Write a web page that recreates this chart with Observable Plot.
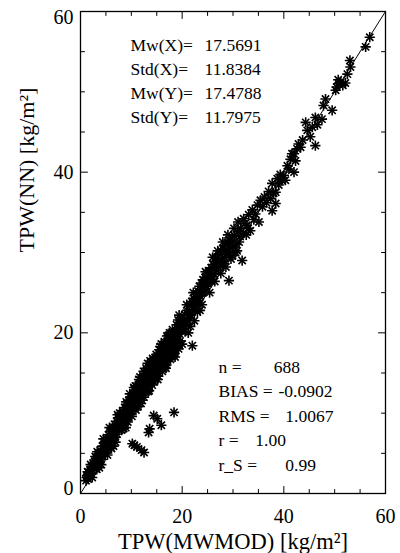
<!DOCTYPE html>
<html><head><meta charset="utf-8">
<script src="https://cdn.jsdelivr.net/npm/d3@7"></script>
<script src="https://cdn.jsdelivr.net/npm/@observablehq/plot@0.6"></script>
<style>body{margin:0;background:#fff} svg{display:block} svg text{font-family:"Liberation Serif", "Times New Roman", serif !important;}</style>
</head><body><div id="chart"></div>
<script>
// TPW from MWMOD (x) versus TPW from the neural network (y), kg/m²
const tpwMWMOD = [
  1.1,1.3,1.5,1.6,1.8,1.9,2.1,2.2,2.4,2.5,
  2.7,2.8,3.0,3.1,3.2,3.4,3.5,3.6,3.8,3.9,
  4.0,4.2,4.3,4.4,4.6,4.7,4.8,5.0,5.1,5.2,
  5.4,5.5,5.6,5.8,5.9,6.0,6.2,6.3,6.4,6.6,
  6.7,6.8,7.0,7.1,7.2,7.4,7.5,7.6,7.8,7.9,
  8.0,8.2,8.3,8.4,8.6,8.7,8.8,9.0,9.1,9.2,
  9.4,9.5,9.6,9.8,9.9,10.0,10.2,10.3,10.4,10.6,
  10.7,10.8,11.0,11.1,11.2,11.4,11.5,11.6,11.8,11.9,
  12.0,12.2,12.3,12.4,12.6,12.7,12.8,13.0,13.1,13.2,
  13.4,13.5,13.6,13.8,13.9,14.0,14.2,14.3,14.4,14.6,
  14.7,14.8,15.0,15.1,15.2,15.4,15.5,15.6,15.8,15.9,
  16.0,16.2,16.3,16.4,16.6,16.7,16.8,17.0,17.1,17.2,
  17.4,17.5,17.6,17.8,17.9,18.0,18.2,18.3,18.4,18.6,
  18.7,18.8,19.0,19.1,19.2,19.4,19.5,19.6,19.8,19.9,
  2.0,3.3,4.5,5.7,6.5,7.3,8.1,9.3,9.7,10.5,
  11.3,11.7,12.5,12.9,13.3,13.7,14.5,14.9,15.3,15.7,
  16.1,16.5,16.9,17.3,17.7,18.1,18.5,18.9,19.3,19.7,
  4.1,6.1,8.5,10.9,12.1,14.1,16.7,18.3,15.5,11.5,
  10.2,11.1,12.5,13.6,13.4,14.4,15.1,15.9,18.4,22.0,
  20.2,20.5,20.8,21.0,21.3,21.5,21.7,21.9,22.1,10.6,
  22.3,22.5,22.7,22.9,23.1,23.2,23.4,23.6,23.8,24.0,
  24.1,24.3,24.5,24.7,24.9,25.1,25.3,25.5,25.7,25.9,
  26.1,26.3,26.5,26.7,26.9,27.1,27.3,27.5,27.7,27.9,
  28.1,28.3,28.5,28.7,28.9,29.1,29.3,29.5,29.2,29.8,
  30.0,30.3,30.6,30.9,31.2,31.5,31.8,30.8,32.1,32.4,
  24.3,25.8,26.6,28.2,23.0,21.6,27.9,29.9,12.0,20.6,
  32.1,32.7,33.1,33.4,33.8,34.1,34.4,34.8,35.1,35.4,
  35.8,36.2,36.6,37.0,37.4,37.7,38.0,38.4,38.4,37.7,
  38.7,39.0,39.3,39.6,40.0,40.3,40.7,41.0,41.3,41.6,
  42.0,42.0,42.3,42.6,42.9,43.3,43.7,44.3,44.6,45.2,
  45.6,46.2,46.2,46.6,47.5,47.8,48.2,49.5,50.2,50.4,
  50.8,51.2,51.6,52.1,50.7,52.5,53.1,53.0,56.1,56.9,
  1.4,2.3,2.9,3.7,4.9,5.3,6.1,6.9,7.7,8.9,
  9.0,10.1,10.8,11.9,12.4,13.5,14.2,15.2,15.9,16.8,
  17.5,18.6,19.2,20.0,20.4,21.2,20.9,22.4,22.2,23.5,
  23.9,24.6,25.4,26.0,26.4,27.0,27.6,28.0,28.6,29.0,
  29.6,30.2,30.5,31.0,31.4,32.6,33.0,19.4,17.0,13.2,
  1.2,1.7,2.6,3.3,4.1,4.6,5.3,5.9,6.6,7.1,
  7.7,8.3,8.9,9.5,10.1,10.7,11.3,11.9,12.5,13.1,
  13.7,14.3,14.9,15.5,16.1,16.7,17.3,17.9,18.5,19.1,
  19.7,20.3,20.9,21.5,22.1,22.8,23.4,24.0,24.6,25.2
];
const tpwNN = [
  1.6,2.2,1.8,2.6,2.1,3.0,2.5,3.3,2.9,3.8,
  3.1,4.0,3.5,4.4,3.0,4.1,4.9,3.8,4.6,5.4,
  4.2,5.1,5.9,4.6,5.5,6.3,5.0,6.0,6.8,5.4,
  6.4,7.3,5.9,6.9,7.7,6.2,7.2,8.1,6.7,7.6,
  8.6,7.0,8.0,9.0,7.4,8.5,9.4,7.9,8.8,9.9,
  8.3,9.2,10.3,8.6,9.7,10.7,9.1,10.1,11.1,9.4,
  10.5,11.6,9.9,10.9,12.0,10.2,11.3,12.4,10.6,11.8,
  12.8,11.0,12.2,13.2,11.4,12.6,13.6,11.9,13.0,14.0,
  12.3,13.4,14.5,12.6,13.8,14.9,13.0,14.2,15.2,13.3,
  14.6,15.6,13.7,14.9,16.0,14.0,15.3,16.3,14.4,15.7,
  16.7,14.7,16.0,17.1,15.1,16.4,17.4,15.4,16.8,17.8,
  15.8,17.1,18.1,16.1,17.5,18.5,16.5,17.8,18.8,16.8,
  18.2,19.2,17.2,18.5,19.5,17.5,18.9,19.9,17.9,19.2,
  20.2,18.2,19.6,20.6,18.6,19.9,20.9,19.0,20.3,21.2,
  3.6,5.2,6.8,8.2,5.9,9.8,7.9,8.9,12.4,13.2,
  10.8,14.5,12.0,15.6,12.7,16.5,13.9,17.3,14.6,18.3,
  15.2,18.9,16.0,19.7,16.7,20.4,17.4,21.0,18.0,21.6,
  3.6,5.6,8.1,10.4,11.6,13.5,15.9,17.2,17.9,14.2,
  6.2,5.8,5.1,8.05,7.6,9.7,9.3,8.5,10.1,18.4,
  21.4,22.3,21.0,22.8,21.9,23.4,22.2,23.9,22.9,6.0,
  24.3,23.2,24.8,23.7,25.2,24.0,25.8,24.6,26.2,25.0,
  26.6,25.4,26.9,25.8,27.4,26.1,27.7,26.5,28.1,27.0,
  28.5,27.3,28.9,27.8,29.3,28.2,29.8,28.6,30.2,29.0,
  30.4,29.4,30.9,29.8,31.2,30.1,31.5,30.5,26.5,31.8,
  30.8,32.1,31.0,32.6,31.3,33.0,29.0,30.2,32.4,33.6,
  26.1,26.4,29.4,28.6,22.6,20.8,28.6,29.6,5.4,20.2,
  34.2,33.4,34.7,32.7,35.3,34.1,34.8,35.9,33.8,36.5,
  35.7,36.9,36.2,37.6,36.7,38.6,37.4,37.5,36.1,35.2,
  39.2,38.4,39.7,39.0,39.6,39.0,40.8,40.4,41.6,42.3,
  42.3,40.0,41.4,42.9,43.5,43.1,44.0,46.2,45.2,44.4,
  45.6,46.8,43.3,45.9,46.6,48.3,49.1,47.7,50.2,50.6,
  51.0,51.2,50.8,51.1,51.5,52.2,53.1,53.9,55.6,56.8,
  2.7,2.0,4.6,3.2,6.5,4.8,8.0,6.4,10.0,8.2,
  11.4,9.6,13.4,11.2,15.2,12.8,16.8,14.2,18.6,15.6,
  20.0,17.0,21.6,18.6,20.8,20.0,23.5,21.5,25.0,22.8,
  23.5,27.6,25.0,29.4,26.4,30.2,27.4,31.3,28.2,32.2,
  29.2,33.0,30.0,33.8,32.0,32.2,33.0,22.2,19.6,16.2,
  2.0,2.4,3.4,4.0,4.9,5.1,6.1,6.6,7.3,8.1,
  8.4,9.3,9.8,10.4,11.0,11.6,12.3,12.9,13.3,14.0,
  14.6,15.1,15.7,16.3,16.9,17.4,18.0,18.6,19.1,19.8,
  20.3,21.0,21.6,22.3,23.6,23.9,24.6,25.2,25.9,26.7
];

const majorTicks = [0, 20, 40, 60];
const minorTicks = [5, 10, 15, 25, 30, 35, 45, 50, 55];
const oneToOne = [0, 60];

const upperStatLabels = ["Mw(X)=", "Std(X)=", "Mw(Y)=", "Std(Y)="];
const upperStatValues = ["17.5691", "11.8384", "17.4788", "11.7975"];
const lowerStatLabels = ["n =", "BIAS =", "RMS =", "r =", "r_S ="];
const lowerStatValues = ["688", "-0.0902", "1.0067", "1.00", "0.99"];

const xTitle = "TPW(MWMOD) [kg/m\u00B2]";
const yTitle = "TPW(NN) [kg/m\u00B2]";

const points = tpwMWMOD.map((x, i) => ({x, y: tpwNN[i]}));

const serif = "Liberation Serif";
const tickShape = {draw(context, l) { context.moveTo(0, 0); context.lineTo(0, -l); }};
function inwardTicks(values, len) {
  const common = {length: len, anchor: "start", shape: tickShape, stroke: "black", strokeWidth: 1};
  return [
    Plot.vector(values, {...common, x: d => d, y: () => 0, rotate: 0}),
    Plot.vector(values, {...common, x: d => d, y: () => 60, rotate: 180}),
    Plot.vector(values, {...common, y: d => d, x: () => 0, rotate: 90}),
    Plot.vector(values, {...common, y: d => d, x: () => 60, rotate: 270})
  ];
}

// layout of the value column for the lower statistics block (x in data units)
const lowerValueX = [38.0, 38.95, 40.3, 34.4, 40.3];

const chart = Plot.plot({
  width: 400,
  height: 553,
  marginLeft: 80,
  marginRight: 15,
  marginTop: 11,
  marginBottom: 60,
  x: {domain: [0, 60], label: null},
  y: {domain: [0, 60], label: null},
  style: {fontFamily: serif, fontSize: "17px", background: "white", color: "black"},
  marks: [
    Plot.line(oneToOne, {x: d => d, y: d => d, stroke: "black", strokeWidth: 1}),
    Plot.dot(points, {x: "x", y: "y", symbol: "plus", r: 3.4, stroke: "black", strokeWidth: 1.6}),
    Plot.dot(points, {x: "x", y: "y", symbol: "times", r: 3.4, stroke: "black", strokeWidth: 1.6}),
    Plot.frame({stroke: "black", strokeWidth: 1.3}),
    ...inwardTicks(majorTicks.slice(1, 3), 7),
    ...inwardTicks(minorTicks, 4),
    Plot.axisX(majorTicks, {tickSize: 0, tickPadding: 15, fontSize: 20, fontFamily: serif, label: null}),
    Plot.axisY([20, 40], {tickSize: 0, tickPadding: 7, fontSize: 20, fontFamily: serif, label: null}),
    Plot.axisY([60], {tickSize: 0, tickPadding: 7, fontSize: 20, fontFamily: serif, dy: 6, label: null}),
    Plot.axisY([0], {tickSize: 0, tickPadding: 7, fontSize: 20, fontFamily: serif, dy: -5, label: null}),
    Plot.text([xTitle], {frameAnchor: "bottom", dy: 48, fontSize: 22.5, fontFamily: serif, lineAnchor: "middle", fill: "black"}),
    Plot.text([yTitle], {frameAnchor: "left", dx: -54, rotate: -90, fontSize: 22, fontFamily: serif, lineAnchor: "middle", fill: "black"}),
    Plot.text(upperStatLabels, {x: () => 9.84, y: (d, i) => 55.8 - 2.99 * i, text: d => d, textAnchor: "start", fontSize: 17.5, fontFamily: serif, fill: "black"}),
    Plot.text(upperStatValues, {x: () => 24.4, y: (d, i) => 55.8 - 2.99 * i, text: d => d, textAnchor: "start", fontSize: 17.5, fontFamily: serif, fill: "black"}),
    Plot.text(lowerStatLabels, {x: () => 27.15, y: (d, i) => 15.7 - 3.05 * i, text: d => d, textAnchor: "start", fontSize: 17.5, fontFamily: serif, fill: "black"}),
    Plot.text(lowerStatValues, {x: (d, i) => lowerValueX[i], y: (d, i) => 15.7 - 3.05 * i, text: d => d, textAnchor: "start", fontSize: 17.5, fontFamily: serif, fill: "black"})
  ]
});
document.getElementById("chart").appendChild(chart);
</script>
</body></html>
